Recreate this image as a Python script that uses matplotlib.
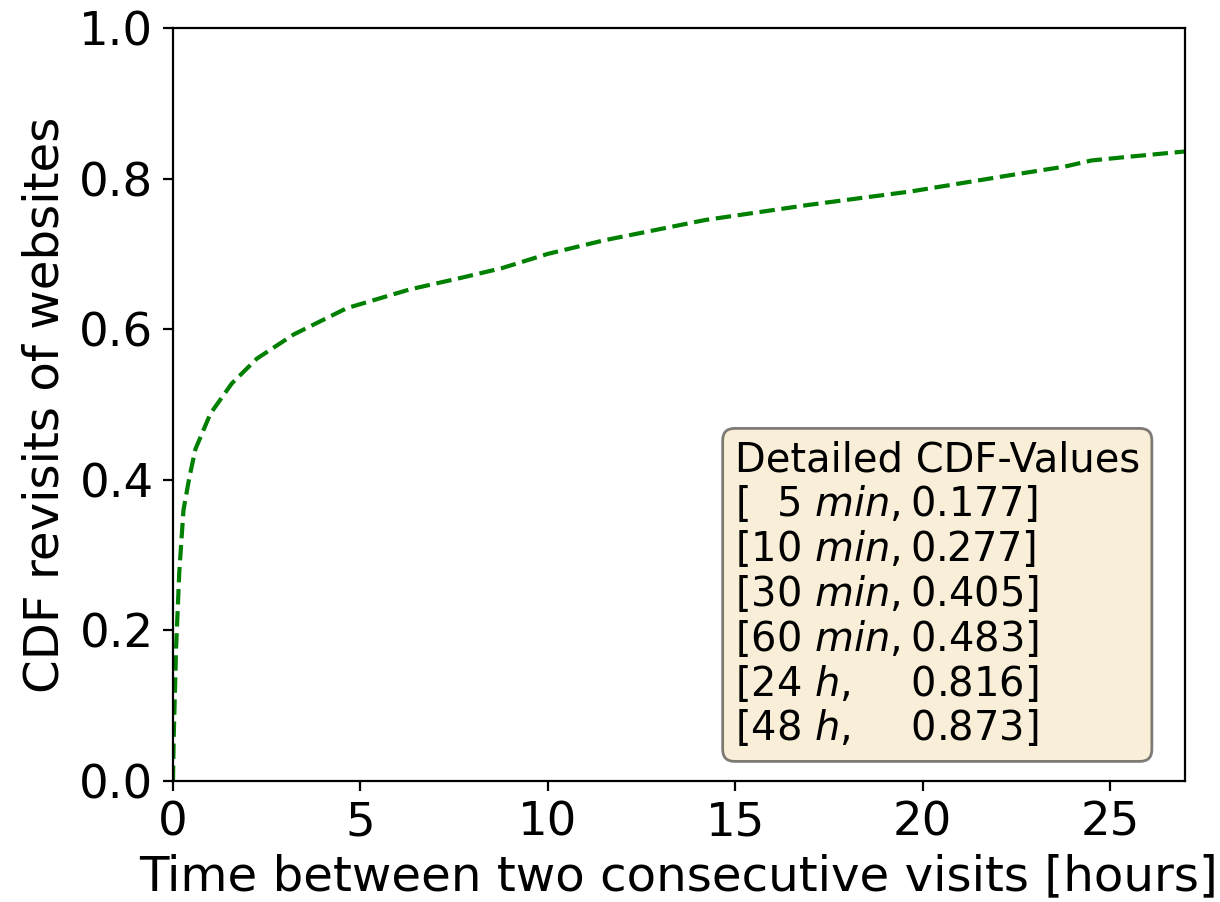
import numpy as np
import matplotlib
matplotlib.use('Agg')
import matplotlib.pyplot as plt

# values (hours -> CDF)
hours = np.array([0, 0.02, 0.083, 0.167, 0.28, 0.44, 0.6, 1.0, 1.57, 2.24,
                  3.22, 4.64, 6.33, 7.67, 8.77, 10.0, 11.5, 14.2, 16.95,
                  19.7, 22.4, 23.8, 24.5, 25.5, 27.0])
cdf = np.array([0, 0.06, 0.177, 0.277, 0.36, 0.404, 0.441, 0.488, 0.528, 0.561,
                0.593, 0.628, 0.653, 0.668, 0.681, 0.700, 0.718, 0.745, 0.765,
                0.783, 0.805, 0.816, 0.824, 0.829, 0.836])

# rows of the info box
box_lines = [
    'Detailed CDF-Values',
    r'[  5 $min, 0.177$]',
    r'[10 $min, 0.277$]',
    r'[30 $min, 0.405$]',
    r'[60 $min, 0.483$]',
    r'[24 $h,$    0.816]',
    r'[48 $h,$    0.873]',
]

fig = plt.figure(figsize=(6.1, 4.51), dpi=200)
ax = fig.add_axes([0.1418, 0.1341, 0.8295, 0.8349])

ax.plot(hours, cdf, 'g--', linewidth=1.5)

ax.set_xlim(0, 27)
ax.set_ylim(0, 1.0)
ax.set_xticks([0, 5, 10, 15, 20, 25])
ax.set_yticks([0.0, 0.2, 0.4, 0.6, 0.8, 1.0])
ax.tick_params(labelsize=16.8)
ax.set_xlabel('Time between two consecutive visits [hours]', fontsize=17.4, labelpad=3)
ax.set_ylabel('CDF revisits of websites', fontsize=17.4)

ax.text(0.555, 0.042, '\n'.join(box_lines), transform=ax.transAxes,
        fontsize=14.4, ha='left', va='bottom', linespacing=1.12,
        bbox=dict(boxstyle='round', facecolor='wheat', alpha=0.5))

fig.savefig('out.png', dpi=200)
